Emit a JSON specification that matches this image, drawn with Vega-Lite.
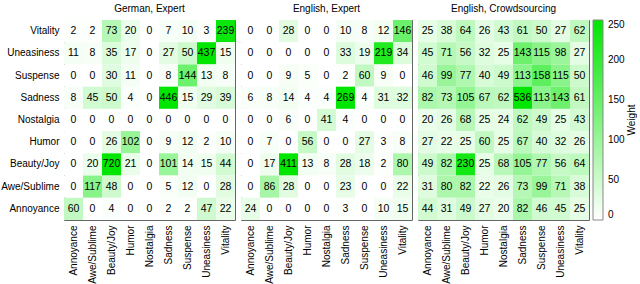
{
  "$schema": "https://vega.github.io/schema/vega-lite/v6.json",
  "padding": {"left": 0, "top": 4, "right": 0, "bottom": 0},
  "config": {
    "font": "Liberation Sans",
    "view": {"stroke": "#666666", "strokeWidth": 1},
    "axis": {"labelFont": "Liberation Sans", "labelFontSize": 10, "labelColor": "#000000", "ticks": false, "domain": false, "grid": false, "title": null, "labelPadding": 4},
    "header": {"labelFont": "Liberation Sans", "labelFontSize": 10, "labelColor": "#000000", "labelPadding": 5},
    "facet": {"spacing": 4}
  },
  "data": {"values": [
    {"p":"German, Expert","y":"Vitality","x":"Annoyance","v":2},{"p":"German, Expert","y":"Vitality","x":"Awe/Sublime","v":2},{"p":"German, Expert","y":"Vitality","x":"Beauty/Joy","v":73},{"p":"German, Expert","y":"Vitality","x":"Humor","v":20},{"p":"German, Expert","y":"Vitality","x":"Nostalgia","v":0},{"p":"German, Expert","y":"Vitality","x":"Sadness","v":7},{"p":"German, Expert","y":"Vitality","x":"Suspense","v":10},{"p":"German, Expert","y":"Vitality","x":"Uneasiness","v":3},{"p":"German, Expert","y":"Vitality","x":"Vitality","v":239},
    {"p":"German, Expert","y":"Uneasiness","x":"Annoyance","v":11},{"p":"German, Expert","y":"Uneasiness","x":"Awe/Sublime","v":8},{"p":"German, Expert","y":"Uneasiness","x":"Beauty/Joy","v":35},{"p":"German, Expert","y":"Uneasiness","x":"Humor","v":17},{"p":"German, Expert","y":"Uneasiness","x":"Nostalgia","v":0},{"p":"German, Expert","y":"Uneasiness","x":"Sadness","v":27},{"p":"German, Expert","y":"Uneasiness","x":"Suspense","v":50},{"p":"German, Expert","y":"Uneasiness","x":"Uneasiness","v":437},{"p":"German, Expert","y":"Uneasiness","x":"Vitality","v":15},
    {"p":"German, Expert","y":"Suspense","x":"Annoyance","v":0},{"p":"German, Expert","y":"Suspense","x":"Awe/Sublime","v":0},{"p":"German, Expert","y":"Suspense","x":"Beauty/Joy","v":30},{"p":"German, Expert","y":"Suspense","x":"Humor","v":11},{"p":"German, Expert","y":"Suspense","x":"Nostalgia","v":0},{"p":"German, Expert","y":"Suspense","x":"Sadness","v":8},{"p":"German, Expert","y":"Suspense","x":"Suspense","v":144},{"p":"German, Expert","y":"Suspense","x":"Uneasiness","v":13},{"p":"German, Expert","y":"Suspense","x":"Vitality","v":8},
    {"p":"German, Expert","y":"Sadness","x":"Annoyance","v":8},{"p":"German, Expert","y":"Sadness","x":"Awe/Sublime","v":45},{"p":"German, Expert","y":"Sadness","x":"Beauty/Joy","v":50},{"p":"German, Expert","y":"Sadness","x":"Humor","v":4},{"p":"German, Expert","y":"Sadness","x":"Nostalgia","v":0},{"p":"German, Expert","y":"Sadness","x":"Sadness","v":446},{"p":"German, Expert","y":"Sadness","x":"Suspense","v":15},{"p":"German, Expert","y":"Sadness","x":"Uneasiness","v":29},{"p":"German, Expert","y":"Sadness","x":"Vitality","v":39},
    {"p":"German, Expert","y":"Nostalgia","x":"Annoyance","v":0},{"p":"German, Expert","y":"Nostalgia","x":"Awe/Sublime","v":0},{"p":"German, Expert","y":"Nostalgia","x":"Beauty/Joy","v":0},{"p":"German, Expert","y":"Nostalgia","x":"Humor","v":0},{"p":"German, Expert","y":"Nostalgia","x":"Nostalgia","v":0},{"p":"German, Expert","y":"Nostalgia","x":"Sadness","v":0},{"p":"German, Expert","y":"Nostalgia","x":"Suspense","v":0},{"p":"German, Expert","y":"Nostalgia","x":"Uneasiness","v":0},{"p":"German, Expert","y":"Nostalgia","x":"Vitality","v":0},
    {"p":"German, Expert","y":"Humor","x":"Annoyance","v":0},{"p":"German, Expert","y":"Humor","x":"Awe/Sublime","v":0},{"p":"German, Expert","y":"Humor","x":"Beauty/Joy","v":26},{"p":"German, Expert","y":"Humor","x":"Humor","v":102},{"p":"German, Expert","y":"Humor","x":"Nostalgia","v":0},{"p":"German, Expert","y":"Humor","x":"Sadness","v":9},{"p":"German, Expert","y":"Humor","x":"Suspense","v":12},{"p":"German, Expert","y":"Humor","x":"Uneasiness","v":2},{"p":"German, Expert","y":"Humor","x":"Vitality","v":10},
    {"p":"German, Expert","y":"Beauty/Joy","x":"Annoyance","v":0},{"p":"German, Expert","y":"Beauty/Joy","x":"Awe/Sublime","v":20},{"p":"German, Expert","y":"Beauty/Joy","x":"Beauty/Joy","v":720},{"p":"German, Expert","y":"Beauty/Joy","x":"Humor","v":21},{"p":"German, Expert","y":"Beauty/Joy","x":"Nostalgia","v":0},{"p":"German, Expert","y":"Beauty/Joy","x":"Sadness","v":101},{"p":"German, Expert","y":"Beauty/Joy","x":"Suspense","v":14},{"p":"German, Expert","y":"Beauty/Joy","x":"Uneasiness","v":15},{"p":"German, Expert","y":"Beauty/Joy","x":"Vitality","v":44},
    {"p":"German, Expert","y":"Awe/Sublime","x":"Annoyance","v":0},{"p":"German, Expert","y":"Awe/Sublime","x":"Awe/Sublime","v":117},{"p":"German, Expert","y":"Awe/Sublime","x":"Beauty/Joy","v":48},{"p":"German, Expert","y":"Awe/Sublime","x":"Humor","v":0},{"p":"German, Expert","y":"Awe/Sublime","x":"Nostalgia","v":0},{"p":"German, Expert","y":"Awe/Sublime","x":"Sadness","v":5},{"p":"German, Expert","y":"Awe/Sublime","x":"Suspense","v":12},{"p":"German, Expert","y":"Awe/Sublime","x":"Uneasiness","v":0},{"p":"German, Expert","y":"Awe/Sublime","x":"Vitality","v":28},
    {"p":"German, Expert","y":"Annoyance","x":"Annoyance","v":60},{"p":"German, Expert","y":"Annoyance","x":"Awe/Sublime","v":0},{"p":"German, Expert","y":"Annoyance","x":"Beauty/Joy","v":4},{"p":"German, Expert","y":"Annoyance","x":"Humor","v":0},{"p":"German, Expert","y":"Annoyance","x":"Nostalgia","v":0},{"p":"German, Expert","y":"Annoyance","x":"Sadness","v":2},{"p":"German, Expert","y":"Annoyance","x":"Suspense","v":2},{"p":"German, Expert","y":"Annoyance","x":"Uneasiness","v":47},{"p":"German, Expert","y":"Annoyance","x":"Vitality","v":22},

    {"p":"English, Expert","y":"Vitality","x":"Annoyance","v":0},{"p":"English, Expert","y":"Vitality","x":"Awe/Sublime","v":0},{"p":"English, Expert","y":"Vitality","x":"Beauty/Joy","v":28},{"p":"English, Expert","y":"Vitality","x":"Humor","v":0},{"p":"English, Expert","y":"Vitality","x":"Nostalgia","v":0},{"p":"English, Expert","y":"Vitality","x":"Sadness","v":10},{"p":"English, Expert","y":"Vitality","x":"Suspense","v":8},{"p":"English, Expert","y":"Vitality","x":"Uneasiness","v":12},{"p":"English, Expert","y":"Vitality","x":"Vitality","v":146},
    {"p":"English, Expert","y":"Uneasiness","x":"Annoyance","v":0},{"p":"English, Expert","y":"Uneasiness","x":"Awe/Sublime","v":0},{"p":"English, Expert","y":"Uneasiness","x":"Beauty/Joy","v":0},{"p":"English, Expert","y":"Uneasiness","x":"Humor","v":0},{"p":"English, Expert","y":"Uneasiness","x":"Nostalgia","v":0},{"p":"English, Expert","y":"Uneasiness","x":"Sadness","v":33},{"p":"English, Expert","y":"Uneasiness","x":"Suspense","v":19},{"p":"English, Expert","y":"Uneasiness","x":"Uneasiness","v":219},{"p":"English, Expert","y":"Uneasiness","x":"Vitality","v":34},
    {"p":"English, Expert","y":"Suspense","x":"Annoyance","v":0},{"p":"English, Expert","y":"Suspense","x":"Awe/Sublime","v":0},{"p":"English, Expert","y":"Suspense","x":"Beauty/Joy","v":9},{"p":"English, Expert","y":"Suspense","x":"Humor","v":5},{"p":"English, Expert","y":"Suspense","x":"Nostalgia","v":0},{"p":"English, Expert","y":"Suspense","x":"Sadness","v":2},{"p":"English, Expert","y":"Suspense","x":"Suspense","v":60},{"p":"English, Expert","y":"Suspense","x":"Uneasiness","v":9},{"p":"English, Expert","y":"Suspense","x":"Vitality","v":0},
    {"p":"English, Expert","y":"Sadness","x":"Annoyance","v":6},{"p":"English, Expert","y":"Sadness","x":"Awe/Sublime","v":8},{"p":"English, Expert","y":"Sadness","x":"Beauty/Joy","v":14},{"p":"English, Expert","y":"Sadness","x":"Humor","v":4},{"p":"English, Expert","y":"Sadness","x":"Nostalgia","v":4},{"p":"English, Expert","y":"Sadness","x":"Sadness","v":269},{"p":"English, Expert","y":"Sadness","x":"Suspense","v":4},{"p":"English, Expert","y":"Sadness","x":"Uneasiness","v":31},{"p":"English, Expert","y":"Sadness","x":"Vitality","v":32},
    {"p":"English, Expert","y":"Nostalgia","x":"Annoyance","v":0},{"p":"English, Expert","y":"Nostalgia","x":"Awe/Sublime","v":0},{"p":"English, Expert","y":"Nostalgia","x":"Beauty/Joy","v":6},{"p":"English, Expert","y":"Nostalgia","x":"Humor","v":0},{"p":"English, Expert","y":"Nostalgia","x":"Nostalgia","v":41},{"p":"English, Expert","y":"Nostalgia","x":"Sadness","v":4},{"p":"English, Expert","y":"Nostalgia","x":"Suspense","v":0},{"p":"English, Expert","y":"Nostalgia","x":"Uneasiness","v":0},{"p":"English, Expert","y":"Nostalgia","x":"Vitality","v":0},
    {"p":"English, Expert","y":"Humor","x":"Annoyance","v":0},{"p":"English, Expert","y":"Humor","x":"Awe/Sublime","v":7},{"p":"English, Expert","y":"Humor","x":"Beauty/Joy","v":0},{"p":"English, Expert","y":"Humor","x":"Humor","v":56},{"p":"English, Expert","y":"Humor","x":"Nostalgia","v":0},{"p":"English, Expert","y":"Humor","x":"Sadness","v":0},{"p":"English, Expert","y":"Humor","x":"Suspense","v":27},{"p":"English, Expert","y":"Humor","x":"Uneasiness","v":3},{"p":"English, Expert","y":"Humor","x":"Vitality","v":8},
    {"p":"English, Expert","y":"Beauty/Joy","x":"Annoyance","v":0},{"p":"English, Expert","y":"Beauty/Joy","x":"Awe/Sublime","v":17},{"p":"English, Expert","y":"Beauty/Joy","x":"Beauty/Joy","v":411},{"p":"English, Expert","y":"Beauty/Joy","x":"Humor","v":13},{"p":"English, Expert","y":"Beauty/Joy","x":"Nostalgia","v":8},{"p":"English, Expert","y":"Beauty/Joy","x":"Sadness","v":28},{"p":"English, Expert","y":"Beauty/Joy","x":"Suspense","v":18},{"p":"English, Expert","y":"Beauty/Joy","x":"Uneasiness","v":2},{"p":"English, Expert","y":"Beauty/Joy","x":"Vitality","v":80},
    {"p":"English, Expert","y":"Awe/Sublime","x":"Annoyance","v":0},{"p":"English, Expert","y":"Awe/Sublime","x":"Awe/Sublime","v":86},{"p":"English, Expert","y":"Awe/Sublime","x":"Beauty/Joy","v":28},{"p":"English, Expert","y":"Awe/Sublime","x":"Humor","v":0},{"p":"English, Expert","y":"Awe/Sublime","x":"Nostalgia","v":0},{"p":"English, Expert","y":"Awe/Sublime","x":"Sadness","v":23},{"p":"English, Expert","y":"Awe/Sublime","x":"Suspense","v":0},{"p":"English, Expert","y":"Awe/Sublime","x":"Uneasiness","v":0},{"p":"English, Expert","y":"Awe/Sublime","x":"Vitality","v":22},
    {"p":"English, Expert","y":"Annoyance","x":"Annoyance","v":24},{"p":"English, Expert","y":"Annoyance","x":"Awe/Sublime","v":0},{"p":"English, Expert","y":"Annoyance","x":"Beauty/Joy","v":0},{"p":"English, Expert","y":"Annoyance","x":"Humor","v":0},{"p":"English, Expert","y":"Annoyance","x":"Nostalgia","v":0},{"p":"English, Expert","y":"Annoyance","x":"Sadness","v":3},{"p":"English, Expert","y":"Annoyance","x":"Suspense","v":0},{"p":"English, Expert","y":"Annoyance","x":"Uneasiness","v":10},{"p":"English, Expert","y":"Annoyance","x":"Vitality","v":15},

    {"p":"English, Crowdsourcing","y":"Vitality","x":"Annoyance","v":25},{"p":"English, Crowdsourcing","y":"Vitality","x":"Awe/Sublime","v":38},{"p":"English, Crowdsourcing","y":"Vitality","x":"Beauty/Joy","v":64},{"p":"English, Crowdsourcing","y":"Vitality","x":"Humor","v":26},{"p":"English, Crowdsourcing","y":"Vitality","x":"Nostalgia","v":43},{"p":"English, Crowdsourcing","y":"Vitality","x":"Sadness","v":61},{"p":"English, Crowdsourcing","y":"Vitality","x":"Suspense","v":50},{"p":"English, Crowdsourcing","y":"Vitality","x":"Uneasiness","v":27},{"p":"English, Crowdsourcing","y":"Vitality","x":"Vitality","v":62},
    {"p":"English, Crowdsourcing","y":"Uneasiness","x":"Annoyance","v":45},{"p":"English, Crowdsourcing","y":"Uneasiness","x":"Awe/Sublime","v":71},{"p":"English, Crowdsourcing","y":"Uneasiness","x":"Beauty/Joy","v":56},{"p":"English, Crowdsourcing","y":"Uneasiness","x":"Humor","v":32},{"p":"English, Crowdsourcing","y":"Uneasiness","x":"Nostalgia","v":25},{"p":"English, Crowdsourcing","y":"Uneasiness","x":"Sadness","v":143},{"p":"English, Crowdsourcing","y":"Uneasiness","x":"Suspense","v":115},{"p":"English, Crowdsourcing","y":"Uneasiness","x":"Uneasiness","v":98},{"p":"English, Crowdsourcing","y":"Uneasiness","x":"Vitality","v":27},
    {"p":"English, Crowdsourcing","y":"Suspense","x":"Annoyance","v":46},{"p":"English, Crowdsourcing","y":"Suspense","x":"Awe/Sublime","v":99},{"p":"English, Crowdsourcing","y":"Suspense","x":"Beauty/Joy","v":77},{"p":"English, Crowdsourcing","y":"Suspense","x":"Humor","v":40},{"p":"English, Crowdsourcing","y":"Suspense","x":"Nostalgia","v":49},{"p":"English, Crowdsourcing","y":"Suspense","x":"Sadness","v":113},{"p":"English, Crowdsourcing","y":"Suspense","x":"Suspense","v":158},{"p":"English, Crowdsourcing","y":"Suspense","x":"Uneasiness","v":115},{"p":"English, Crowdsourcing","y":"Suspense","x":"Vitality","v":50},
    {"p":"English, Crowdsourcing","y":"Sadness","x":"Annoyance","v":82},{"p":"English, Crowdsourcing","y":"Sadness","x":"Awe/Sublime","v":73},{"p":"English, Crowdsourcing","y":"Sadness","x":"Beauty/Joy","v":105},{"p":"English, Crowdsourcing","y":"Sadness","x":"Humor","v":67},{"p":"English, Crowdsourcing","y":"Sadness","x":"Nostalgia","v":62},{"p":"English, Crowdsourcing","y":"Sadness","x":"Sadness","v":536},{"p":"English, Crowdsourcing","y":"Sadness","x":"Suspense","v":113},{"p":"English, Crowdsourcing","y":"Sadness","x":"Uneasiness","v":143},{"p":"English, Crowdsourcing","y":"Sadness","x":"Vitality","v":61},
    {"p":"English, Crowdsourcing","y":"Nostalgia","x":"Annoyance","v":20},{"p":"English, Crowdsourcing","y":"Nostalgia","x":"Awe/Sublime","v":26},{"p":"English, Crowdsourcing","y":"Nostalgia","x":"Beauty/Joy","v":68},{"p":"English, Crowdsourcing","y":"Nostalgia","x":"Humor","v":25},{"p":"English, Crowdsourcing","y":"Nostalgia","x":"Nostalgia","v":24},{"p":"English, Crowdsourcing","y":"Nostalgia","x":"Sadness","v":62},{"p":"English, Crowdsourcing","y":"Nostalgia","x":"Suspense","v":49},{"p":"English, Crowdsourcing","y":"Nostalgia","x":"Uneasiness","v":25},{"p":"English, Crowdsourcing","y":"Nostalgia","x":"Vitality","v":43},
    {"p":"English, Crowdsourcing","y":"Humor","x":"Annoyance","v":27},{"p":"English, Crowdsourcing","y":"Humor","x":"Awe/Sublime","v":22},{"p":"English, Crowdsourcing","y":"Humor","x":"Beauty/Joy","v":25},{"p":"English, Crowdsourcing","y":"Humor","x":"Humor","v":60},{"p":"English, Crowdsourcing","y":"Humor","x":"Nostalgia","v":25},{"p":"English, Crowdsourcing","y":"Humor","x":"Sadness","v":67},{"p":"English, Crowdsourcing","y":"Humor","x":"Suspense","v":40},{"p":"English, Crowdsourcing","y":"Humor","x":"Uneasiness","v":32},{"p":"English, Crowdsourcing","y":"Humor","x":"Vitality","v":26},
    {"p":"English, Crowdsourcing","y":"Beauty/Joy","x":"Annoyance","v":49},{"p":"English, Crowdsourcing","y":"Beauty/Joy","x":"Awe/Sublime","v":82},{"p":"English, Crowdsourcing","y":"Beauty/Joy","x":"Beauty/Joy","v":230},{"p":"English, Crowdsourcing","y":"Beauty/Joy","x":"Humor","v":25},{"p":"English, Crowdsourcing","y":"Beauty/Joy","x":"Nostalgia","v":68},{"p":"English, Crowdsourcing","y":"Beauty/Joy","x":"Sadness","v":105},{"p":"English, Crowdsourcing","y":"Beauty/Joy","x":"Suspense","v":77},{"p":"English, Crowdsourcing","y":"Beauty/Joy","x":"Uneasiness","v":56},{"p":"English, Crowdsourcing","y":"Beauty/Joy","x":"Vitality","v":64},
    {"p":"English, Crowdsourcing","y":"Awe/Sublime","x":"Annoyance","v":31},{"p":"English, Crowdsourcing","y":"Awe/Sublime","x":"Awe/Sublime","v":80},{"p":"English, Crowdsourcing","y":"Awe/Sublime","x":"Beauty/Joy","v":82},{"p":"English, Crowdsourcing","y":"Awe/Sublime","x":"Humor","v":22},{"p":"English, Crowdsourcing","y":"Awe/Sublime","x":"Nostalgia","v":26},{"p":"English, Crowdsourcing","y":"Awe/Sublime","x":"Sadness","v":73},{"p":"English, Crowdsourcing","y":"Awe/Sublime","x":"Suspense","v":99},{"p":"English, Crowdsourcing","y":"Awe/Sublime","x":"Uneasiness","v":71},{"p":"English, Crowdsourcing","y":"Awe/Sublime","x":"Vitality","v":38},
    {"p":"English, Crowdsourcing","y":"Annoyance","x":"Annoyance","v":44},{"p":"English, Crowdsourcing","y":"Annoyance","x":"Awe/Sublime","v":31},{"p":"English, Crowdsourcing","y":"Annoyance","x":"Beauty/Joy","v":49},{"p":"English, Crowdsourcing","y":"Annoyance","x":"Humor","v":27},{"p":"English, Crowdsourcing","y":"Annoyance","x":"Nostalgia","v":20},{"p":"English, Crowdsourcing","y":"Annoyance","x":"Sadness","v":82},{"p":"English, Crowdsourcing","y":"Annoyance","x":"Suspense","v":46},{"p":"English, Crowdsourcing","y":"Annoyance","x":"Uneasiness","v":45},{"p":"English, Crowdsourcing","y":"Annoyance","x":"Vitality","v":25}
  ]},
  "facet": {
    "column": {"field": "p", "type": "nominal", "sort": ["German, Expert", "English, Expert", "English, Crowdsourcing"], "header": {"title": null, "labelOrient": "top"}}
  },
  "spec": {
    "width": 171,
    "height": 200,
    "layer": [
      {
        "mark": {"type": "rect"},
        "encoding": {
          "x": {"field": "x", "type": "nominal", "sort": ["Annoyance","Awe/Sublime","Beauty/Joy","Humor","Nostalgia","Sadness","Suspense","Uneasiness","Vitality"], "axis": {"labelAngle": -90}, "scale": {"paddingInner": 0, "paddingOuter": 0}},
          "y": {"field": "y", "type": "nominal", "sort": ["Vitality","Uneasiness","Suspense","Sadness","Nostalgia","Humor","Beauty/Joy","Awe/Sublime","Annoyance"], "scale": {"paddingInner": 0, "paddingOuter": 0}},
          "color": {"field": "v", "type": "quantitative", "title": "Weight",
            "scale": {"type": "linear", "domain": [0, 250], "range": ["#ffffff", "#00e600"], "interpolate": "rgb", "clamp": true, "zero": false, "nice": false},
            "legend": {"gradientLength": 200, "gradientThickness": 10, "gradientStrokeColor": "#888888", "gradientStrokeWidth": 1, "titleOrient": "right", "titlePadding": 2, "titleFontSize": 10, "titleFontWeight": "normal", "titleColor": "#000000", "labelFontSize": 10, "labelColor": "#000000", "labelOffset": 5, "offset": 3, "padding": 0,
              "encode": {"title": {"update": {"angle": {"value": -90}, "baseline": {"value": "top"}}}}}}
        }
      },
      {
        "mark": {"type": "text", "fontSize": 10.5, "color": "#000000", "font": "Liberation Sans"},
        "encoding": {
          "x": {"field": "x", "type": "nominal", "sort": ["Annoyance","Awe/Sublime","Beauty/Joy","Humor","Nostalgia","Sadness","Suspense","Uneasiness","Vitality"]},
          "y": {"field": "y", "type": "nominal", "sort": ["Vitality","Uneasiness","Suspense","Sadness","Nostalgia","Humor","Beauty/Joy","Awe/Sublime","Annoyance"]},
          "text": {"field": "v", "type": "quantitative"}
        }
      }
    ]
  }
}
